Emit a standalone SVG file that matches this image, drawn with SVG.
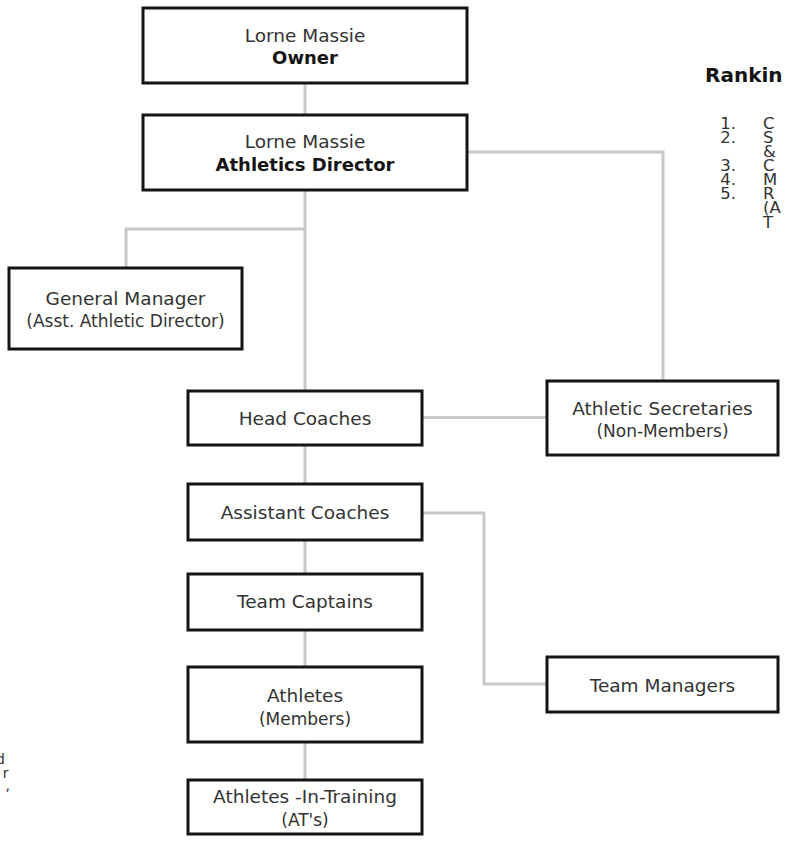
<svg xmlns="http://www.w3.org/2000/svg" width="785" height="846" viewBox="0 0 785 846">
<style>
.box{fill:#fff;stroke:#141414;stroke-width:3}
.conn{fill:none;stroke:#c8c8c8;stroke-width:3}
text{font-family:"DejaVu Sans","Liberation Sans",sans-serif;fill:#333;text-anchor:middle}
.m{font-size:18.5px}
.s{font-size:17px}
.b{font-size:18px;font-weight:bold;fill:#141414}
.rk{font-size:20px;font-weight:bold;fill:#141414;text-anchor:start}
.ln{font-size:16.5px;fill:#333}
.num{text-anchor:end}
.st{text-anchor:start}
.fr{font-size:14px;text-anchor:end}
</style>
<rect width="785" height="846" fill="#fff"/>
<g id="connectors">
<line class="conn" x1="305" y1="83" x2="305" y2="115"/>
<line class="conn" x1="305" y1="190" x2="305" y2="391"/>
<path class="conn" d="M305 229 H126 V268"/>
<path class="conn" d="M466 152 H663 V381"/>
<line class="conn" x1="422" y1="417.5" x2="547" y2="417.5"/>
<line class="conn" x1="305" y1="445" x2="305" y2="484"/>
<line class="conn" x1="305" y1="540" x2="305" y2="574"/>
<line class="conn" x1="305" y1="630" x2="305" y2="667"/>
<line class="conn" x1="305" y1="742" x2="305" y2="780"/>
<path class="conn" d="M422 513 H484 V684 H547"/>
</g>
<g id="owner">
<rect class="box" x="143" y="8" width="324" height="75"/>
<text class="m" x="305" y="42">Lorne Massie</text>
<text class="b" x="305" y="64">Owner</text>
</g>
<g id="director">
<rect class="box" x="143" y="115" width="324" height="75"/>
<text class="m" x="305" y="148">Lorne Massie</text>
<text class="b" x="305" y="171">Athletics Director</text>
</g>
<g id="general-manager">
<rect class="box" x="9" y="268" width="233" height="81"/>
<text class="m" x="125.5" y="305">General Manager</text>
<text class="s" x="125.5" y="327">(Asst. Athletic Director)</text>
</g>
<g id="head-coaches">
<rect class="box" x="188" y="391" width="234" height="54"/>
<text class="m" x="305" y="425">Head Coaches</text>
</g>
<g id="athletic-secretaries">
<rect class="box" x="547" y="381" width="231" height="74"/>
<text class="m" x="662.5" y="415">Athletic Secretaries</text>
<text class="s" x="662.5" y="437">(Non-Members)</text>
</g>
<g id="assistant-coaches">
<rect class="box" x="188" y="484" width="234" height="56"/>
<text class="m" x="305" y="519">Assistant Coaches</text>
</g>
<g id="team-captains">
<rect class="box" x="188" y="574" width="234" height="56"/>
<text class="m" x="305" y="608">Team Captains</text>
</g>
<g id="athletes">
<rect class="box" x="188" y="667" width="234" height="75"/>
<text class="m" x="305" y="702">Athletes</text>
<text class="s" x="305" y="725">(Members)</text>
</g>
<g id="athletes-in-training">
<rect class="box" x="188" y="780" width="234" height="54"/>
<text class="m" x="305" y="803">Athletes -In-Training</text>
<text class="s" x="305" y="826">(AT's)</text>
</g>
<g id="team-managers">
<rect class="box" x="547" y="657" width="231" height="55"/>
<text class="m" x="662.5" y="692">Team Managers</text>
</g>
<g id="ranking">
<text class="rk" x="705" y="82">Rankin</text>
<text class="ln num" x="736" y="129">1.</text>
<text class="ln st" x="763" y="129">C</text>
<text class="ln num" x="736" y="143">2.</text>
<text class="ln st" x="763" y="143">S</text>
<text class="ln st" x="763" y="157">&amp;</text>
<text class="ln num" x="736" y="171">3.</text>
<text class="ln st" x="763" y="171">C</text>
<text class="ln num" x="736" y="185">4.</text>
<text class="ln st" x="763" y="185">M</text>
<text class="ln num" x="736" y="199">5.</text>
<text class="ln st" x="763" y="199">R</text>
<text class="ln st" x="763" y="213">(A</text>
<text class="ln st" x="763" y="228">T</text>
</g>
<g id="left-fragment">
<text class="fr" x="5" y="764">d</text>
<text class="fr" x="8.5" y="778">r</text>
<text class="fr" x="10" y="790">,</text>
</g>
</svg>
